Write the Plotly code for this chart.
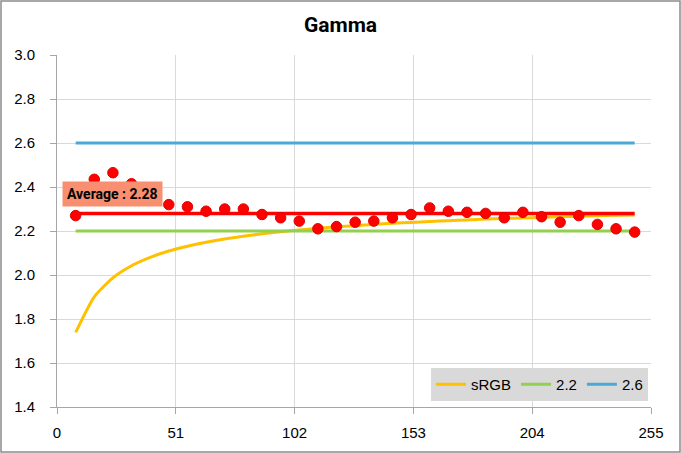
import plotly.graph_objects as go

x_levels = [8, 16, 24, 32, 40, 48, 56, 64, 72, 80, 88, 96, 104, 112, 120, 128,
            136, 144, 152, 160, 168, 176, 184, 192, 200, 208, 216, 224, 232, 240, 248]
measured = [2.27, 2.435, 2.465, 2.415, 2.39, 2.32, 2.31, 2.29, 2.30, 2.30, 2.275,
            2.26, 2.245, 2.21, 2.22, 2.24, 2.245, 2.26, 2.275, 2.305, 2.29, 2.285,
            2.28, 2.26, 2.285, 2.265, 2.24, 2.27, 2.23, 2.21, 2.195]
srgb = [1.739, 1.901, 1.987, 2.042, 2.080, 2.109, 2.131, 2.149, 2.164, 2.176, 2.187,
        2.197, 2.205, 2.212, 2.219, 2.224, 2.230, 2.235, 2.239, 2.243, 2.247, 2.250,
        2.254, 2.257, 2.259, 2.262, 2.265, 2.267, 2.269, 2.272, 2.273]
g22 = [2.2] * len(x_levels)
g26 = [2.6] * len(x_levels)
average = [2.28] * len(x_levels)
avg_label = "Average : 2.28"
x_ticks = [0, 51, 102, 153, 204, 255]
y_ticks = [1.4, 1.6, 1.8, 2.0, 2.2, 2.4, 2.6, 2.8, 3.0]

fig = go.Figure()
fig.add_trace(go.Scatter(x=x_levels, y=srgb, mode="lines", name="sRGB",
                         line=dict(color="#FFC000", width=3, shape="spline", smoothing=0.6)))
fig.add_trace(go.Scatter(x=x_levels, y=g22, mode="lines", name="2.2",
                         line=dict(color="#92D050", width=3)))
fig.add_trace(go.Scatter(x=x_levels, y=g26, mode="lines", name="2.6",
                         line=dict(color="#4BA9D8", width=3)))
fig.add_trace(go.Scatter(x=x_levels, y=average, mode="lines", name="Average",
                         showlegend=False, line=dict(color="#FF0000", width=3.5)))
fig.add_trace(go.Scatter(x=x_levels, y=measured, mode="markers", name="Measured",
                         showlegend=False,
                         marker=dict(color="#FF0000", size=10.5,
                                     line=dict(color="#E00000", width=1))))

fig.add_annotation(x=2, y=2.37, xref="x", yref="y", xanchor="left", yanchor="middle",
                   text="<b>" + avg_label + "</b>", showarrow=False,
                   font=dict(family="Liberation Sans Narrow, Roboto, Arial", size=14, color="#000000"),
                   bgcolor="#F78F70", borderpad=4)

fig.add_shape(type="rect", xref="paper", yref="paper", x0=-56/594, x1=1+29/594,
              y0=-45/352, y1=1+54/352, line=dict(color="#8C8C8C", width=1.5))

fig.update_layout(
    width=681, height=453,
    margin=dict(l=57, r=30, t=55, b=46),
    paper_bgcolor="#FFFFFF", plot_bgcolor="#FFFFFF",
    title=dict(text="<b>Gamma</b>", x=0.5, xanchor="center", y=0.945, yanchor="middle",
               font=dict(family="Liberation Sans Narrow, Roboto, Arial", size=21, color="#000000")),
    font=dict(family="Liberation Sans, Arial", size=15, color="#000000"),
    legend=dict(orientation="h", x=0.995, xanchor="right", y=0.017, yanchor="bottom",
                bgcolor="#D9D9D9", font=dict(size=15), itemwidth=30,
                traceorder="normal"),
    xaxis=dict(range=[0, 255], tickvals=x_ticks, showgrid=True, gridcolor="#D9D9D9",
               gridwidth=1, showline=True, linecolor="#A6A6A6", linewidth=1,
               ticks="outside", ticklen=6, tickcolor="#A6A6A6", zeroline=False,
               ticklabelstandoff=6, mirror=False, fixedrange=True),
    yaxis=dict(range=[1.4, 3.0], tickvals=y_ticks, tickformat=".1f", showgrid=True,
               gridcolor="#D9D9D9", gridwidth=1, showline=True, linecolor="#A6A6A6",
               linewidth=1, ticks="outside", ticklen=6, tickcolor="#A6A6A6",
               ticklabelstandoff=12, zeroline=False, fixedrange=True),
    showlegend=True,
)

fig.write_html("out.html", config={"displayModeBar": False},
               post_script="document.body.style.margin='0';")
